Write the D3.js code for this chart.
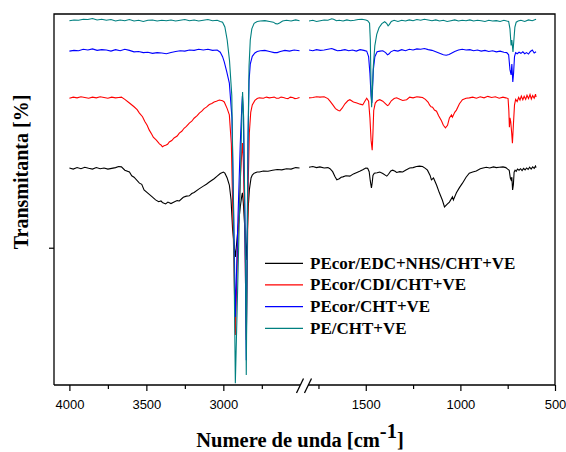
<!DOCTYPE html>
<html><head><meta charset="utf-8">
<script src="https://cdn.jsdelivr.net/npm/d3@7"></script>
<style>
html,body{margin:0;padding:0;background:#fff;}
svg{display:block;}
</style></head><body>
<svg id="chart" width="566" height="452"></svg>
<script>
// FTIR spectra, stacked transmittance (arbitrary offset units), [wavenumber cm-1, value]
const seriesNames = ["PEcor/EDC+NHS/CHT+VE", "PEcor/CDI/CHT+VE", "PEcor/CHT+VE", "PE/CHT+VE"];
const seriesColors = ["#000000", "#ff0000", "#0000ff", "#008080"];

const specEdcNhs = [
  [4000,58.5],[3975,58.2],[3950,58.6],[3925,58.3],[3900,58.7],[3875,58.4],[3850,58.2],[3825,58.6],
  [3800,58.3],[3775,58.5],[3750,58.2],[3725,58.4],[3700,58.6],[3680,58.9],[3662,58.8],[3640,57.9],
  [3610,57.4],[3595,56.4],[3580,56.0],[3545,54.4],[3530,54.1],[3515,52.6],[3481,51.4],[3462,50.7],
  [3440,49.9],[3420,49.4],[3405,49.6],[3396,49.2],[3375,48.8],[3360,49.3],[3340,48.9],[3320,49.3],
  [3300,49.7],[3286,49.6],[3260,50.6],[3240,50.9],[3221,51.0],[3205,51.6],[3190,51.9],[3160,52.8],
  [3130,53.6],[3110,54.1],[3091,54.7],[3060,55.6],[3040,56.3],[3020,57.0],[3000,57.4],[2990,57.1],
  [2975,55.8],[2961,53.9],[2950,50.0],[2940,42.0],[2922,34.5],[2905,42.0],[2890,48.0],[2880,51.0],
  [2876,51.8],[2870,49.0],[2860,42.0],[2851,33.7],[2845,40.0],[2838,48.0],[2831,52.6],[2820,55.8],
  [2812,56.6],[2800,57.1],[2780,57.4],[2766,57.4],[2740,57.7],[2710,57.6],[2680,57.9],[2650,58.1],
  [2620,58.0],[2590,58.3],[2560,58.2],[2530,58.6],[2505,58.5],
  [1800,58.7],[1780,58.9],[1760,58.6],[1742,58.8],[1720,58.5],[1700,58.6],[1689,58.3],[1675,57.5],
  [1663,56.2],[1653,55.3],[1640,55.6],[1630,56.0],[1621,56.1],[1605,56.4],[1584,56.3],[1565,56.9],
  [1547,57.3],[1532,57.6],[1516,58.0],[1500,58.5],[1490,58.4],[1482,57.5],[1476,55.0],[1470,53.1],
  [1466,54.5],[1462,56.5],[1455,57.1],[1440,57.2],[1426,57.4],[1410,57.0],[1395,56.5],[1389,56.3],
  [1380,56.8],[1368,57.7],[1358,57.9],[1345,57.6],[1337,57.3],[1320,57.5],[1305,57.4],[1290,57.9],
  [1268,58.5],[1250,58.6],[1232,58.9],[1216,59.0],[1200,58.9],[1185,58.4],[1174,57.9],[1160,56.5],
  [1153,55.3],[1142,55.8],[1126,53.9],[1111,51.8],[1095,49.8],[1084,48.0],[1068,48.8],[1058,49.3],
  [1042,50.7],[1037,49.9],[1021,51.8],[1005,53.2],[989,54.4],[970,56.0],[953,57.1],[935,57.4],
  [916,57.7],[895,58.3],[880,58.5],[863,58.7],[845,58.5],[825,58.8],[810,58.6],[795,58.7],
  [775,58.8],[760,58.6],[750,58.2],[742,57.9],[736,55.8],[732,55.3],[728,56.0],[724,52.6],
  [720,54.0],[716,57.4],[711,57.9],[705,57.6],[698,58.2],[690,57.9],[682,58.3],[674,57.8],
  [666,58.4],[658,58.0],[650,58.5],[642,58.1],[634,58.7],[626,58.2],[618,58.8],[610,58.4],
  [603,59.0],[600,58.6]
];

const specCdi = [
  [4000,77.3],[3975,77.6],[3950,77.4],[3925,77.7],[3900,77.5],[3875,77.3],[3850,77.6],[3825,77.4],
  [3800,77.7],[3775,77.5],[3750,77.3],[3725,77.6],[3700,77.4],[3680,77.5],[3662,77.6],[3640,77.0],
  [3610,76.0],[3580,75.0],[3560,74.2],[3545,73.3],[3525,72.3],[3510,71.0],[3495,70.0],[3481,68.7],
  [3465,67.6],[3455,66.8],[3435,66.0],[3415,65.0],[3405,64.7],[3396,64.2],[3385,64.5],[3375,64.6],
  [3362,64.9],[3351,65.5],[3335,65.9],[3320,66.6],[3300,67.1],[3286,67.9],[3270,68.4],[3255,69.2],
  [3240,69.7],[3221,70.6],[3205,71.1],[3190,71.9],[3170,72.6],[3156,73.3],[3140,73.8],[3125,74.5],
  [3110,74.9],[3091,75.6],[3075,75.9],[3060,76.3],[3045,76.5],[3026,76.8],[3005,76.6],[2994,76.3],
  [2975,74.5],[2961,72.8],[2948,65.0],[2935,40.0],[2922,13.5],[2905,40.0],[2890,55.0],[2880,63.0],
  [2876,65.2],[2870,60.0],[2860,40.0],[2851,12.1],[2845,30.0],[2838,55.0],[2831,68.0],[2822,73.5],
  [2812,75.5],[2795,76.7],[2780,77.2],[2766,77.4],[2740,77.3],[2720,77.6],[2701,77.4],[2685,77.5],
  [2670,77.6],[2655,77.3],[2640,77.3],[2625,77.6],[2610,77.5],[2595,77.3],[2580,77.2],[2565,77.6],
  [2550,77.5],[2535,77.2],[2520,77.3],[2505,77.5],
  [1800,77.4],[1780,77.5],[1760,77.7],[1742,77.6],[1720,77.7],[1700,77.2],[1689,76.5],[1674,75.5],
  [1660,74.5],[1645,74.0],[1637,73.9],[1625,74.6],[1610,75.8],[1595,76.6],[1584,76.9],[1565,76.3],
  [1547,76.0],[1530,75.7],[1516,75.5],[1505,76.5],[1495,77.3],[1485,76.5],[1478,72.0],[1472,66.0],
  [1466,63.3],[1462,68.0],[1458,74.0],[1450,76.0],[1440,76.6],[1426,76.9],[1410,76.5],[1395,75.8],
  [1385,75.3],[1379,75.5],[1365,76.6],[1350,77.2],[1337,77.4],[1320,77.0],[1305,76.7],[1284,76.9],
  [1268,77.6],[1250,77.4],[1230,77.7],[1216,77.6],[1200,77.5],[1185,77.0],[1170,76.2],[1163,75.5],
  [1155,75.0],[1147,74.9],[1137,74.1],[1126,73.8],[1115,72.6],[1100,71.2],[1090,70.0],[1079,69.3],
  [1068,70.0],[1058,72.0],[1047,72.8],[1042,72.2],[1030,73.5],[1021,74.1],[1005,75.8],[989,76.9],
  [970,77.3],[953,77.4],[935,77.6],[915,77.3],[895,77.7],[875,77.4],[855,77.8],[835,77.5],
  [815,77.7],[795,77.3],[775,77.6],[760,77.4],[748,77.2],[744,74.0],[741,69.5],[738,72.0],
  [734,71.0],[729,68.0],[725,65.2],[720,70.0],[714,75.5],[708,77.0],[700,76.4],[692,77.5],
  [685,76.8],[678,77.9],[670,76.9],[663,77.8],[655,77.0],[648,78.1],[640,77.2],[632,78.3],
  [625,77.1],[618,78.0],[610,77.3],[603,78.4],[600,77.6]
];

const specCor = [
  [4000,90.0],[3970,90.2],[3940,90.1],[3910,90.5],[3880,90.3],[3850,90.6],[3820,90.2],[3790,90.4],
  [3760,90.3],[3730,90.0],[3700,90.4],[3670,90.1],[3640,90.5],[3610,90.2],[3580,89.8],[3550,89.9],
  [3520,89.6],[3490,89.7],[3460,89.4],[3430,89.6],[3400,89.5],[3370,89.3],[3340,89.6],[3310,89.9],
  [3280,90.1],[3250,90.0],[3220,90.3],[3190,90.2],[3160,90.5],[3130,90.3],[3100,90.5],[3070,90.2],
  [3040,90.3],[3020,89.7],[3005,88.5],[2994,87.1],[2978,84.5],[2961,81.4],[2944,72.0],[2932,45.0],
  [2922,18.3],[2905,45.0],[2890,65.0],[2880,75.0],[2876,77.9],[2870,73.0],[2860,45.0],[2851,6.7],
  [2846,35.0],[2840,65.0],[2833,82.0],[2825,86.5],[2812,88.6],[2795,89.5],[2780,89.9],[2760,90.1],
  [2730,90.2],[2700,89.9],[2670,89.6],[2650,89.6],[2630,89.9],[2600,90.2],[2570,90.0],[2540,90.3],
  [2505,90.1],
  [1800,90.3],[1780,90.1],[1760,90.4],[1740,90.2],[1720,90.3],[1700,90.5],[1680,90.7],[1665,90.4],
  [1650,90.1],[1630,90.2],[1610,90.4],[1590,90.1],[1570,90.3],[1550,90.0],[1530,90.4],[1510,90.2],
  [1495,90.0],[1485,88.5],[1478,84.0],[1472,78.0],[1468,76.0],[1464,80.0],[1460,85.0],[1452,88.5],
  [1440,89.8],[1425,90.0],[1410,90.1],[1395,89.6],[1385,89.0],[1378,89.2],[1368,89.8],[1350,90.2],
  [1330,90.0],[1310,90.4],[1290,90.1],[1270,90.5],[1250,90.3],[1230,90.6],[1210,90.5],[1190,90.7],
  [1170,90.4],[1150,90.2],[1130,89.8],[1110,89.4],[1090,89.0],[1075,88.9],[1060,89.1],[1045,89.5],
  [1030,89.9],[1010,90.3],[990,90.5],[970,90.3],[950,90.4],[930,90.1],[910,90.3],[890,90.0],
  [870,90.2],[850,89.9],[830,90.1],[810,89.8],[790,90.0],[770,89.7],[755,89.6],[745,89.0],
  [738,85.0],[732,83.6],[728,86.5],[723,81.7],[719,84.0],[714,88.5],[708,89.6],[700,89.3],
  [690,89.7],[680,89.4],[670,89.8],[660,89.3],[650,89.6],[640,89.2],[630,89.9],[620,90.3],
  [610,89.5],[600,89.8]
];

const specPe = [
  [4000,98.2],[3970,98.4],[3940,98.3],[3910,98.6],[3880,98.5],[3850,98.8],[3820,98.4],[3790,98.6],
  [3760,98.3],[3730,98.5],[3700,98.1],[3670,98.4],[3640,98.2],[3610,98.5],[3580,98.1],[3550,98.3],
  [3520,98.0],[3490,98.3],[3460,98.4],[3430,98.1],[3400,98.3],[3370,98.2],[3340,98.4],[3310,98.1],
  [3280,98.3],[3250,98.5],[3220,98.2],[3190,98.4],[3160,98.1],[3130,98.3],[3100,98.5],[3070,98.2],
  [3040,98.3],[3020,98.0],[3005,97.8],[2990,96.5],[2975,93.0],[2960,87.5],[2945,78.0],[2935,50.0],
  [2922,0.5],[2890,55.0],[2880,72.0],[2875,79.0],[2868,72.0],[2855,30.0],[2851,2.7],[2846,30.0],
  [2840,65.0],[2833,86.0],[2825,93.0],[2815,96.0],[2800,97.5],[2780,98.0],[2760,98.1],[2730,98.2],
  [2700,98.0],[2675,97.8],[2660,97.4],[2648,97.3],[2635,97.6],[2615,98.1],[2590,98.3],[2560,98.1],
  [2530,98.4],[2505,98.2],
  [1800,98.1],[1780,98.3],[1760,98.0],[1740,98.2],[1720,98.4],[1700,98.3],[1680,98.7],[1670,98.6],
  [1655,98.2],[1640,98.3],[1620,98.1],[1600,98.4],[1580,98.2],[1560,98.3],[1540,98.5],[1520,98.6],
  [1500,98.4],[1490,98.2],[1480,97.5],[1476,93.0],[1472,80.0],[1469,74.9],[1465,80.0],[1460,86.0],
  [1452,91.5],[1442,94.5],[1430,96.3],[1415,97.4],[1400,97.9],[1390,97.5],[1382,96.8],[1375,97.2],
  [1365,98.0],[1350,98.3],[1330,98.0],[1310,98.3],[1290,98.1],[1270,98.4],[1250,98.2],[1230,98.5],
  [1210,98.3],[1190,98.6],[1170,98.4],[1150,98.2],[1130,98.4],[1110,98.1],[1090,98.3],[1070,98.0],
  [1050,98.2],[1030,98.4],[1010,98.1],[990,98.3],[970,98.2],[950,98.4],[930,98.1],[910,98.3],
  [890,98.2],[870,98.0],[850,98.3],[830,98.1],[810,98.2],[790,98.0],[770,98.3],[755,98.1],
  [745,98.0],[738,96.0],[732,91.5],[728,93.0],[722,89.8],[718,92.5],[712,96.5],[705,97.8],
  [695,98.1],[680,98.3],[660,98.0],[640,98.4],[620,98.2],[600,98.6]
];

const allSeries = [specEdcNhs, specCdi, specCor, specPe];

// axis ticks (broken wavenumber axis)
const leftMajorTicks = [4000, 3500, 3000];
const leftMinorTicks = [3750, 3250, 2750];
const rightMajorTicks = [1500, 1000, 500];
const rightMinorTicks = [1750, 1250, 750];
const yTickValues = [37];

const svg = d3.select('#chart');
const L = 54, R = 555, T = 14, B = 385;

const xLeft = d3.scaleLinear().domain([4100, 2450]).range([L, 308]);
const xRight = d3.scaleLinear().domain([1800, 500]).range([309, R]);
const y = d3.scaleLinear().domain([0, 100]).range([B, T]);

// spectra
const lineLeft = d3.line().x(d => xLeft(d[0])).y(d => y(d[1]));
const lineRight = d3.line().x(d => xRight(d[0])).y(d => y(d[1]));
const gLines = svg.append('g');
allSeries.forEach((s, i) => {
  gLines.append('path')
    .attr('d', lineLeft(s.filter(d => d[0] > 2000)))
    .attr('fill', 'none').attr('stroke', seriesColors[i]).attr('stroke-width', 1.1);
  gLines.append('path')
    .attr('d', lineRight(s.filter(d => d[0] < 2000)))
    .attr('fill', 'none').attr('stroke', seriesColors[i]).attr('stroke-width', 1.1);
});

// x axes
function styleAxis(g) {
  g.select('.domain').remove();
  g.selectAll('.tick line').attr('stroke', '#000').attr('stroke-width', 1.2);
  g.selectAll('.tick text').attr('fill', '#000')
    .style('font-family', '"Liberation Sans", Arial, sans-serif').style('font-size', '13px');
}
[[xLeft, leftMajorTicks, leftMinorTicks], [xRight, rightMajorTicks, rightMinorTicks]].forEach(([sc, maj, min]) => {
  svg.append('g').attr('transform', `translate(0,${B})`)
    .call(d3.axisBottom(sc).tickValues(maj).tickSize(6).tickPadding(9).tickFormat(d3.format('d')))
    .call(styleAxis);
  svg.append('g').attr('transform', `translate(0,${B})`)
    .call(d3.axisBottom(sc).tickValues(min).tickSize(4).tickFormat(''))
    .call(styleAxis);
});

// y axis tick (no labels)
svg.append('g').attr('transform', `translate(${L},0)`)
  .call(d3.axisLeft(y).tickValues(yTickValues).tickSize(5).tickFormat(''))
  .call(styleAxis);

// frame with break on bottom axis
const frame = svg.append('g').attr('stroke', '#000').attr('stroke-width', 1.3).attr('fill', 'none');
frame.append('path').attr('d', `M${L},${B}V${T}H${R}V${B}H308`);
frame.append('path').attr('d', `M${L},${B}H300`);
frame.append('line').attr('x1', 296.5).attr('y1', 393).attr('x2', 303.5).attr('y2', 378.5);
frame.append('line').attr('x1', 304.5).attr('y1', 393).attr('x2', 311.5).attr('y2', 378.5);

// titles
const serif = '"Liberation Serif", "Times New Roman", serif';
const xt = svg.append('text').attr('x', 300).attr('y', 447).attr('text-anchor', 'middle')
  .style('font-family', serif).style('font-weight', 'bold').style('font-size', '20.5px');
xt.append('tspan').text('Numere de unda [cm');
xt.append('tspan').attr('dy', -9).text('-1');
xt.append('tspan').attr('dy', 9).text(']');

svg.append('text').attr('transform', 'translate(28,172) rotate(-90)').attr('text-anchor', 'middle')
  .style('font-family', serif).style('font-weight', 'bold').style('font-size', '20px')
  .text('Transmitanta [%]');

// legend
const legend = svg.append('g');
const legendY = d3.scaleLinear().domain([0, 3]).range([263.3, 328.3]);
seriesNames.forEach((name, i) => {
  const yy = legendY(i);
  legend.append('line').attr('x1', 265).attr('x2', 303).attr('y1', yy).attr('y2', yy)
    .attr('stroke', seriesColors[i]).attr('stroke-width', 1.2);
  legend.append('text').attr('x', 310).attr('y', yy + 5.5)
    .style('font-family', serif).style('font-weight', 'bold').style('font-size', '17px')
    .text(name);
});
</script>
</body></html>
